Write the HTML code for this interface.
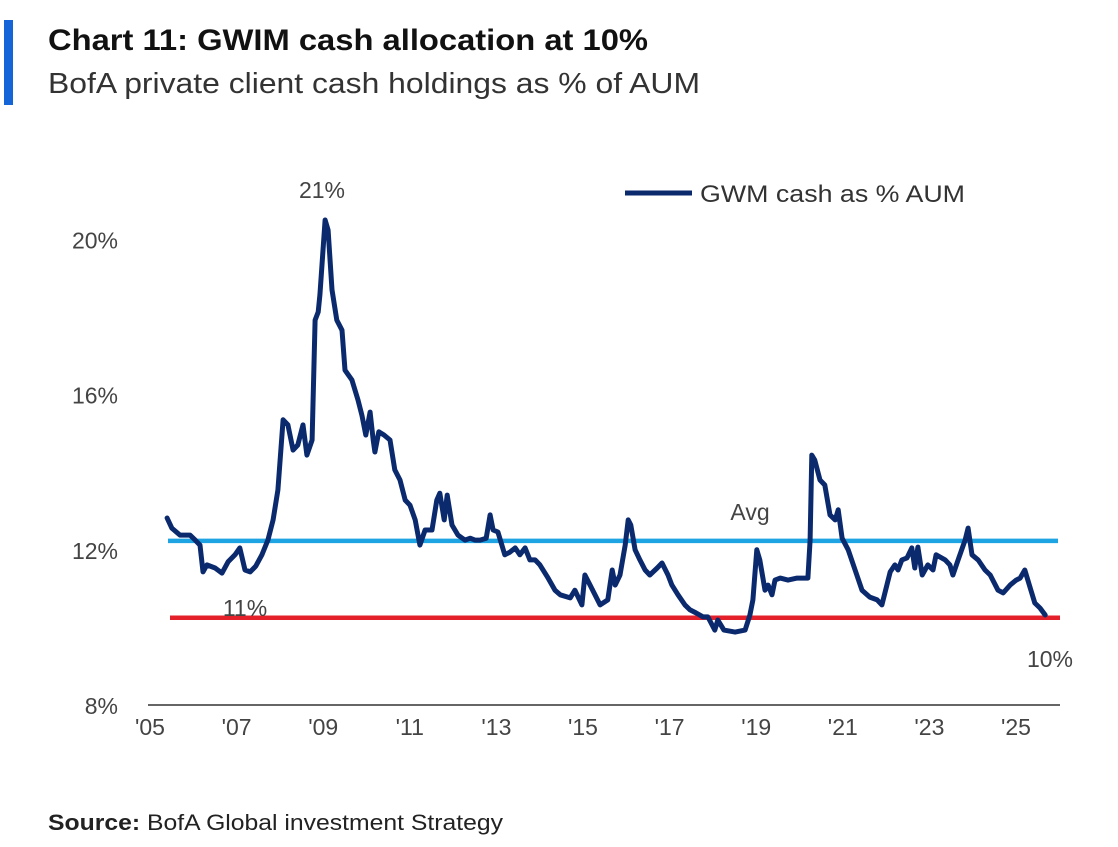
<!DOCTYPE html>
<html><head><meta charset="utf-8"><style>
body{margin:0;background:#fff;font-family:"Liberation Sans",sans-serif;}
</style></head><body>
<svg width="1118" height="842" viewBox="0 0 1118 842" xmlns="http://www.w3.org/2000/svg">
<rect x="0" y="0" width="1118" height="842" fill="#fff"/>
<rect x="4" y="20" width="9" height="85" fill="#1565d8"/>
<text x="48" y="50" font-size="30" font-weight="bold" fill="#111" textLength="600" lengthAdjust="spacingAndGlyphs">Chart 11: GWIM cash allocation at 10%</text>
<text x="48" y="93" font-size="29" fill="#333" textLength="652" lengthAdjust="spacingAndGlyphs">BofA private client cash holdings as % of AUM</text>
<g id="plot"></g>
<line x1="625" y1="193" x2="692" y2="193" stroke="#0b2a6e" stroke-width="5"/>
<text x="700" y="202" font-size="24" fill="#333" textLength="265" lengthAdjust="spacingAndGlyphs">GWM cash as % AUM</text>
<text x="48" y="830" font-size="22" fill="#222" textLength="455" lengthAdjust="spacingAndGlyphs"><tspan font-weight="bold">Source:</tspan> BofA Global investment Strategy</text>
</svg>
<script>
const years=[5.44,5.55,5.74,5.97,6.09,6.20,6.27,6.36,6.55,6.71,6.85,7.01,7.12,7.24,7.36,7.49,7.63,7.77,7.89,8.00,8.12,8.23,8.35,8.46,8.58,8.67,8.79,8.86,8.93,8.97,9.09,9.16,9.25,9.36,9.48,9.55,9.71,9.85,9.94,10.03,10.13,10.20,10.24,10.33,10.45,10.59,10.70,10.82,10.94,11.05,11.17,11.28,11.40,11.56,11.67,11.74,11.84,11.91,12.02,12.16,12.32,12.44,12.55,12.67,12.81,12.90,12.97,13.08,13.24,13.36,13.48,13.59,13.71,13.82,13.94,14.05,14.24,14.40,14.52,14.75,14.86,15.02,15.09,15.21,15.44,15.62,15.72,15.79,15.90,16.02,16.09,16.15,16.25,16.36,16.48,16.59,16.76,16.87,17.01,17.10,17.24,17.40,17.52,17.66,17.82,17.93,18.09,18.16,18.30,18.56,18.79,18.90,18.97,19.06,19.13,19.25,19.32,19.41,19.48,19.60,19.78,19.99,20.24,20.29,20.33,20.40,20.52,20.63,20.75,20.87,20.94,21.03,21.17,21.33,21.49,21.67,21.84,21.95,22.14,22.25,22.32,22.41,22.53,22.64,22.71,22.78,22.88,23.01,23.13,23.20,23.41,23.52,23.59,23.71,23.87,23.94,24.03,24.17,24.33,24.45,24.63,24.75,24.91,25.05,25.14,25.25,25.39,25.48,25.60,25.72];
const cashPct=[12.82,12.56,12.38,12.38,12.25,12.12,11.43,11.61,11.53,11.40,11.69,11.87,12.05,11.48,11.43,11.58,11.87,12.25,12.77,13.54,15.35,15.22,14.57,14.70,15.22,14.44,14.83,17.92,18.13,18.57,20.50,20.24,18.70,17.92,17.66,16.63,16.38,15.86,15.47,14.96,15.55,14.83,14.52,15.04,14.96,14.83,14.06,13.80,13.28,13.15,12.77,12.12,12.51,12.51,13.28,13.46,12.77,13.41,12.64,12.38,12.25,12.30,12.25,12.25,12.30,12.90,12.51,12.46,11.87,11.94,12.05,11.87,12.05,11.74,11.74,11.61,11.27,10.96,10.84,10.76,10.96,10.58,11.35,11.09,10.58,10.71,11.48,11.09,11.35,12.12,12.77,12.64,12.00,11.74,11.48,11.35,11.53,11.66,11.35,11.09,10.84,10.58,10.45,10.37,10.27,10.27,9.93,10.19,9.93,9.88,9.93,10.32,10.71,12.00,11.74,10.96,11.09,10.84,11.22,11.27,11.22,11.27,11.27,12.25,14.44,14.31,13.80,13.67,12.90,12.77,13.03,12.30,12.00,11.48,10.96,10.78,10.71,10.58,11.43,11.61,11.48,11.74,11.79,12.05,11.53,12.07,11.35,11.61,11.48,11.87,11.74,11.61,11.35,11.74,12.25,12.56,11.87,11.74,11.48,11.35,10.96,10.89,11.09,11.22,11.27,11.48,10.96,10.63,10.50,10.32];
const yTicks=[8,12,16,20];
const yTickLabels=["8%","12%","16%","20%"];
const xTicks=[5,7,9,11,13,15,17,19,21,23,25];
const xTickLabels=["'05","'07","'09","'11","'13","'15","'17","'19","'21","'23","'25"];
const avgValue=[12.23];
const floorValue=[10.25];

const NS="http://www.w3.org/2000/svg";
const g=document.getElementById('plot');
const xs=v=>148+(v-5)*43.3;
const ys=v=>705-(v-8)*38.8;
function mk(t,a){const e=document.createElementNS(NS,t);for(const k in a)e.setAttribute(k,a[k]);g.appendChild(e);return e;}
yTicks.forEach((t,i)=>{const e=mk('text',{x:118,y:ys(t)+9,'font-size':23,fill:'#444','text-anchor':'end'});e.textContent=yTickLabels[i];

});
xTicks.forEach((t,i)=>{const e=mk('text',{x:xs(t)+2,y:735,'font-size':23,fill:'#444','text-anchor':'middle'});e.textContent=xTickLabels[i];

});
const ax=mk('line',{x1:148,y1:705,x2:1060,y2:705,stroke:'#333','stroke-width':1.5});


const avg=mk('line',{x1:168,y1:ys(avgValue[0]),x2:1058,y2:ys(avgValue[0]),stroke:'#1ea3e3','stroke-width':4.5});


const red=mk('line',{x1:170,y1:ys(floorValue[0]),x2:1060,y2:ys(floorValue[0]),stroke:'#e4202b','stroke-width':4.5});


const d=years.map((y,i)=>(i?'L':'M')+xs(y).toFixed(1)+','+ys(cashPct[i]).toFixed(1)).join('');
const p=mk('path',{d:d,fill:'none',stroke:'#0b2a6e','stroke-width':5,'stroke-linejoin':'round','stroke-linecap':'round'});


const anns=[[322,198,'21%','peak-label'],[750,520,'Avg','avg-label'],[245,616,'11%','eleven-pct-label'],[1050,667,'10%','latest-label']];
anns.forEach(a=>{const e=mk('text',{x:a[0],y:a[1],'font-size':23,fill:'#444','text-anchor':'middle'});e.textContent=a[2];

});
</script>
</body></html>
